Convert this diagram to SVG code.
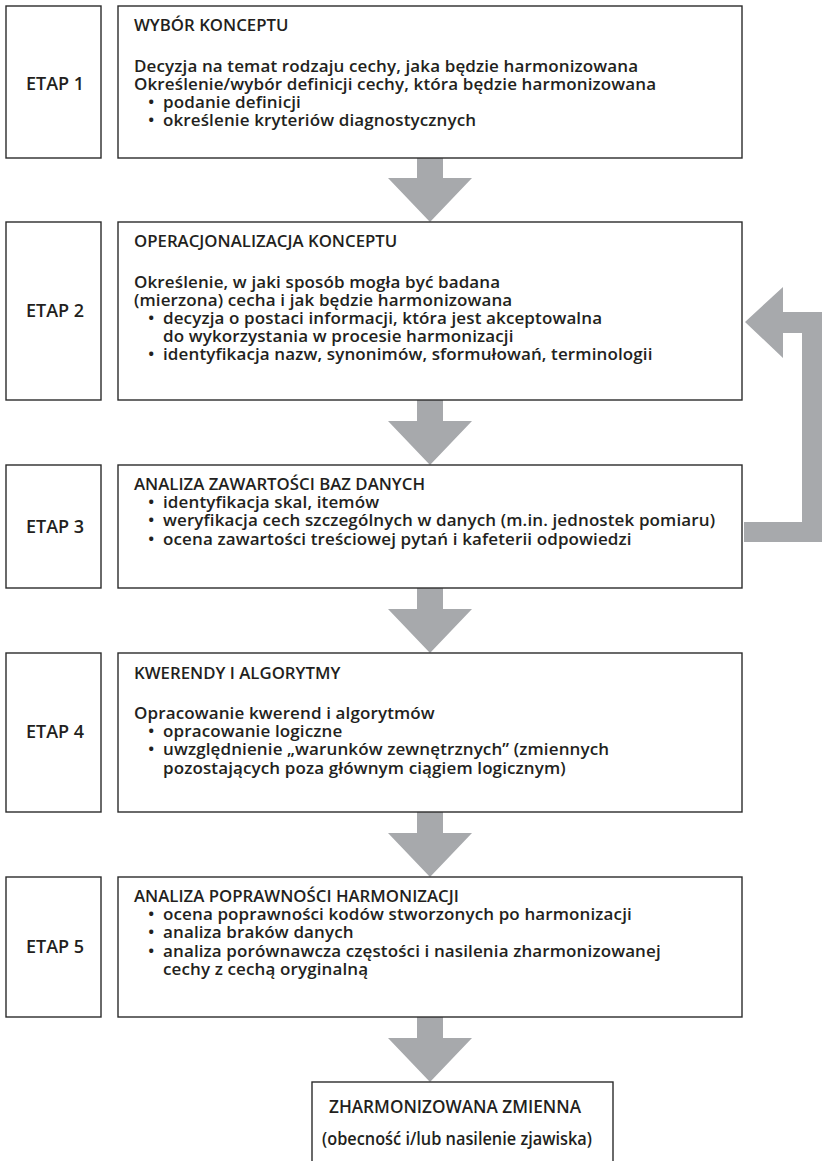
<svg xmlns="http://www.w3.org/2000/svg" width="822" height="1161" viewBox="0 0 822 1161">
<style>
.box{fill:#fff;stroke:#2b2b2b;stroke-width:1.4}
.arr{fill:#a7a9ac}
text{font-family:"Open Sans","Noto Sans",sans-serif;font-weight:600;fill:#231f20}
.t{font-size:16.8px}
.l{font-size:17px;letter-spacing:0.12px}
.e{font-size:18px;text-anchor:middle}
.f{font-size:18px;text-anchor:middle}
</style>
<rect width="822" height="1161" fill="#fff"/>
<g id="connectors">
<polygon class="arr" points="417,158 443,158 443,178 472,178 430,222 388,178 417,178"/>
<polygon class="arr" points="417,400 443,400 443,421 472,421 430,465 388,421 417,421"/>
<polygon class="arr" points="417,588 443,588 443,609 472,609 430,653 388,609 417,609"/>
<polygon class="arr" points="417,812 443,812 443,833 472,833 430,877 388,833 417,833"/>
<polygon class="arr" points="417,1017 443,1017 443,1038 472,1038 430,1082 388,1038 417,1038"/>
<polygon class="arr" points="745,322 783,287 783,312 822,312 822,542 744,542 744,522 802,522 802,333 783,333 783,358"/>
</g>
<g id="etap1">
<rect class="box" x="6" y="6" width="95" height="152"/>
<text class="e" x="55" y="90">ETAP 1</text>
</g>
<g id="step1">
<rect class="box" x="118" y="6" width="624" height="152"/>
<text class="t" x="134" y="31">WYBÓR KONCEPTU</text>
<text class="l" x="134" y="72">Decyzja na temat rodzaju cechy, jaka będzie harmonizowana</text>
<text class="l" x="134" y="90">Określenie/wybór definicji cechy, która będzie harmonizowana</text>
<text class="l" y="108"><tspan x="148">•</tspan><tspan x="163">podanie definicji</tspan></text>
<text class="l" y="126"><tspan x="148">•</tspan><tspan x="163">określenie kryteriów diagnostycznych</tspan></text>
</g>
<g id="etap2">
<rect class="box" x="6" y="222" width="95" height="178"/>
<text class="e" x="55" y="317">ETAP 2</text>
</g>
<g id="step2">
<rect class="box" x="118" y="222" width="624" height="178"/>
<text class="t" x="134" y="247">OPERACJONALIZACJA KONCEPTU</text>
<text class="l" x="134" y="288">Określenie, w jaki sposób mogła być badana</text>
<text class="l" x="134" y="306">(mierzona) cecha i jak będzie harmonizowana</text>
<text class="l" y="324"><tspan x="148">•</tspan><tspan x="163">decyzja o postaci informacji, która jest akceptowalna</tspan></text>
<text class="l" x="163" y="342">do wykorzystania w procesie harmonizacji</text>
<text class="l" y="360"><tspan x="148">•</tspan><tspan x="163">identyfikacja nazw, synonimów, sformułowań, terminologii</tspan></text>
</g>
<g id="etap3">
<rect class="box" x="6" y="465" width="95" height="123"/>
<text class="e" x="55" y="533">ETAP 3</text>
</g>
<g id="step3">
<rect class="box" x="118" y="465" width="624" height="123"/>
<text class="t" x="134" y="490">ANALIZA ZAWARTOŚCI BAZ DANYCH</text>
<text class="l" y="508"><tspan x="148">•</tspan><tspan x="163">identyfikacja skal, itemów</tspan></text>
<text class="l" y="526"><tspan x="148">•</tspan><tspan x="163">weryfikacja cech szczególnych w danych (m.in. jednostek pomiaru)</tspan></text>
<text class="l" y="545"><tspan x="148">•</tspan><tspan x="163">ocena zawartości treściowej pytań i kafeterii odpowiedzi</tspan></text>
</g>
<g id="etap4">
<rect class="box" x="6" y="653" width="95" height="159"/>
<text class="e" x="55" y="738">ETAP 4</text>
</g>
<g id="step4">
<rect class="box" x="118" y="653" width="624" height="159"/>
<text class="t" x="134" y="679">KWERENDY I ALGORYTMY</text>
<text class="l" x="134" y="719">Opracowanie kwerend i algorytmów</text>
<text class="l" y="737"><tspan x="148">•</tspan><tspan x="163">opracowanie logiczne</tspan></text>
<text class="l" y="755"><tspan x="148">•</tspan><tspan x="163">uwzględnienie „warunków zewnętrznych” (zmiennych</tspan></text>
<text class="l" x="163" y="774">pozostających poza głównym ciągiem logicznym)</text>
</g>
<g id="etap5">
<rect class="box" x="6" y="877" width="95" height="140"/>
<text class="e" x="55" y="953">ETAP 5</text>
</g>
<g id="step5">
<rect class="box" x="118" y="877" width="624" height="140"/>
<text class="t" x="134" y="902">ANALIZA POPRAWNOŚCI HARMONIZACJI</text>
<text class="l" y="920"><tspan x="148">•</tspan><tspan x="163">ocena poprawności kodów stworzonych po harmonizacji</tspan></text>
<text class="l" y="938"><tspan x="148">•</tspan><tspan x="163">analiza braków danych</tspan></text>
<text class="l" y="957"><tspan x="148">•</tspan><tspan x="163">analiza porównawcza częstości i nasilenia zharmonizowanej</tspan></text>
<text class="l" x="163" y="975">cechy z cechą oryginalną</text>
</g>
<g id="result">
<rect class="box" x="312" y="1082" width="301" height="100"/>
<text class="f" x="455" y="1113" textLength="252" lengthAdjust="spacingAndGlyphs">ZHARMONIZOWANA ZMIENNA</text>
<text class="f" x="457" y="1145" textLength="270" lengthAdjust="spacingAndGlyphs">(obecność i/lub nasilenie zjawiska)</text>
</g>
</svg>
